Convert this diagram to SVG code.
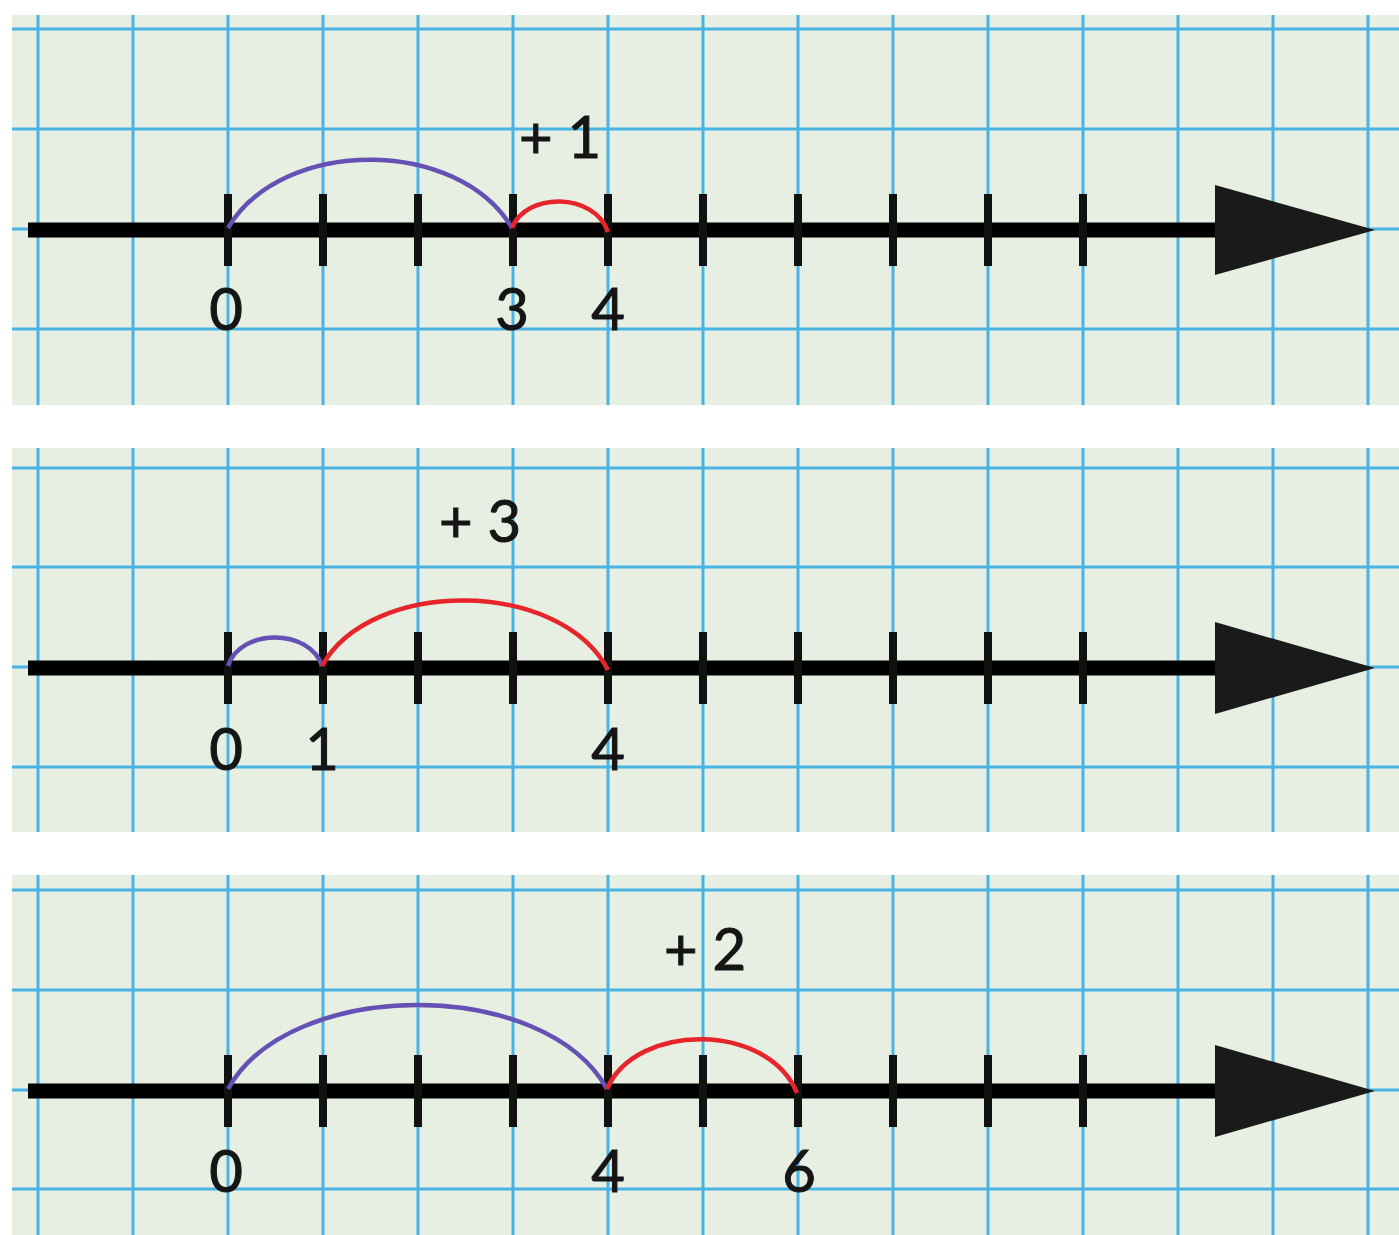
<svg xmlns="http://www.w3.org/2000/svg" width="1399" height="1235" viewBox="0 0 1399 1235">
<style>
.bg{fill:#e7eee2}
.g{stroke:#49b3e3;stroke-width:3}
.axis{stroke:#000;stroke-width:15}
.tick{stroke:#111;stroke-width:8}
.head{fill:#1a1a1a}
.p{fill:none;stroke:#6550b4;stroke-width:4.5}
.r{fill:none;stroke:#e5252a;stroke-width:4.5}
text{font-family:Lato,"Open Sans","DejaVu Sans",sans-serif;font-size:58px;fill:#151515;stroke:#151515;stroke-width:1;text-anchor:middle}
</style>
<defs>
<g id="vlines">
<path class="g" d="M38 0V1M133 0V1M228 0V1M323 0V1M418 0V1M513 0V1M608 0V1M703 0V1M798 0V1M893 0V1M988 0V1M1083 0V1M1178 0V1M1273 0V1M1368 0V1"/>
</g>
<g id="ticks">
<path class="tick" d="M228 -36V36M323 -36V36M418 -36V36M513 -36V36M608 -36V36M703 -36V36M798 -36V36M893 -36V36M988 -36V36M1083 -36V36"/>
</g>
</defs>
<rect width="1399" height="1235" fill="#fff"/>

<g id="panel1">
<rect class="bg" x="12" y="15" width="1387" height="390"/>
<use href="#vlines" transform="translate(0,15) scale(1,390)"/>
<path class="g" d="M12 29H1399M12 129H1399M12 229H1399M12 329H1399"/>
</g>
<g id="panel2">
<rect class="bg" x="12" y="448" width="1387" height="384"/>
<use href="#vlines" transform="translate(0,448) scale(1,384)"/>
<path class="g" d="M12 468H1399M12 567H1399M12 667H1399M12 767H1399"/>
</g>
<g id="panel3">
<rect class="bg" x="12" y="875" width="1387" height="360"/>
<use href="#vlines" transform="translate(0,875) scale(1,360)"/>
<path class="g" d="M12 890H1399M12 990H1399M12 1090H1399M12 1189H1399"/>
</g>

<g id="line1">
<path class="axis" d="M28 230H1225"/>
<use href="#ticks" transform="translate(0,230)"/>
<path class="head" d="M1215 185L1375 230L1215 275Z"/>
</g>
<g id="line2">
<path class="axis" d="M28 668H1225"/>
<use href="#ticks" transform="translate(0,668)"/>
<path class="head" d="M1215 622L1375 668L1215 714Z"/>
</g>
<g id="line3">
<path class="axis" d="M28 1091H1225"/>
<use href="#ticks" transform="translate(0,1091)"/>
<path class="head" d="M1215 1045L1375 1091L1215 1137Z"/>
</g>

<g id="connectors">
<path class="p" d="M228 228C282 137 458 137 512 228"/>
<path class="r" d="M512 228C526 192 594 192 608 232"/>
<path class="p" d="M228 666C240 628 310 628 322 666"/>
<path class="r" d="M322 666C370 578 560 578 608 670"/>
<path class="p" d="M228 1089C290 977 545 977 607 1089"/>
<path class="r" d="M607 1089C636 1022 768 1022 797 1093"/>
</g>

<g id="labels1">
<text x="560" y="158">+ 1</text>
<text x="226" y="330">0</text>
<text x="512" y="330">3</text>
<text x="608" y="330">4</text>
</g>
<g id="labels2">
<text x="480" y="542">+ 3</text>
<text x="226" y="770">0</text>
<text x="322" y="770">1</text>
<text x="608" y="770">4</text>
</g>
<g id="labels3">
<text x="705" y="970">+ 2</text>
<text x="226" y="1192">0</text>
<text x="608" y="1192">4</text>
<text x="799" y="1192">6</text>
</g>
</svg>
